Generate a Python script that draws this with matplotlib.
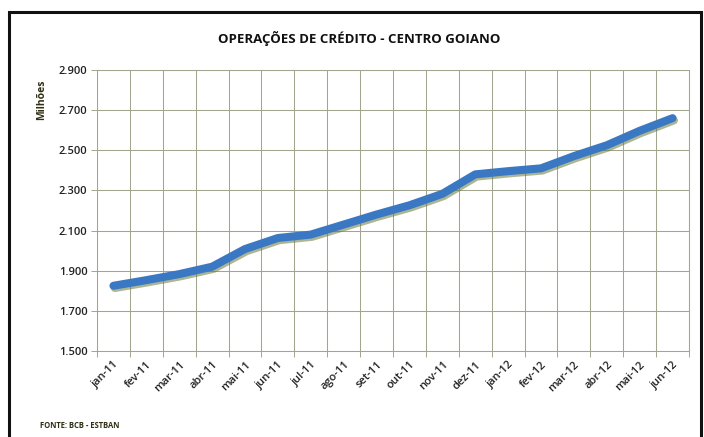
import matplotlib
matplotlib.use("Agg")
import matplotlib.pyplot as plt
import matplotlib.patheffects as pe
from matplotlib.patches import Rectangle
import numpy as np

months = ["jan-11", "fev-11", "mar-11", "abr-11", "mai-11", "jun-11", "jul-11",
          "ago-11", "set-11", "out-11", "nov-11", "dez-11", "jan-12", "fev-12",
          "mar-12", "abr-12", "mai-12", "jun-12"]
values = [1825, 1853, 1883, 1920, 2008, 2063, 2080, 2130, 2180, 2226, 2283,
          2380, 2396, 2410, 2471, 2525, 2597, 2660]
yticks = [1500, 1700, 1900, 2100, 2300, 2500, 2700, 2900]
ytick_labels = ["1.500", "1.700", "1.900", "2.100", "2.300", "2.500", "2.700", "2.900"]

plt.rcParams['font.family'] = ['Open Sans', 'DejaVu Sans']

fig = plt.figure(figsize=(7.04, 4.37), dpi=100)
fig.patch.set_facecolor("white")

# outer border
fig.add_artist(Rectangle((9/704, -0.05), (701-9)/704, 1 - 12/437 + 0.05,
                         transform=fig.transFigure, fill=False,
                         edgecolor="#111111", linewidth=2.2))

ax = fig.add_axes([97/704, 1 - 351/437, (689-97)/704, (351-70)/437])
x = np.arange(len(months))
grid_c = "#a3a68e"

ax.plot(x, values, color="#3b78c4", linewidth=5.8, solid_capstyle="round",
        solid_joinstyle="round",
        path_effects=[pe.SimpleLineShadow(offset=(1.0, -1.6), shadow_color="#6b7a3a", alpha=0.55),
                      pe.Normal()], zorder=3)

ax.set_xlim(-0.5, len(months) - 0.5)
ax.set_ylim(1500, 2900)
ax.set_yticks(yticks)
ax.set_yticklabels(ytick_labels, fontsize=8, color="#222222", fontweight="semibold")
ax.set_xticks(x)
ax.set_xticklabels(months, rotation=45, ha="right", rotation_mode="anchor",
                   fontsize=8, color="#222222", fontweight="semibold")
ax.set_xticks(np.arange(-0.5, len(months)), minor=True)
ax.tick_params(axis="x", which="major", length=0, pad=6)
ax.tick_params(axis="x", which="minor", length=4, color=grid_c, width=0.7)
ax.tick_params(axis="y", length=4, color=grid_c, width=0.7, pad=3)

ax.grid(True, axis="y", which="major", color=grid_c, linewidth=0.75)
ax.grid(True, axis="x", which="minor", color=grid_c, linewidth=0.75)
ax.grid(False, axis="x", which="major")
for s in ax.spines.values():
    s.set_color(grid_c)
    s.set_linewidth(0.75)
ax.set_axisbelow(True)

fig.text(359/704, 1 - 38/437, "OPERAÇÕES DE CRÉDITO - CENTRO GOIANO",
         ha="center", va="center", fontsize=9.5, fontweight="bold", color="#111111")
fig.text(42/704, 1 - 100/437, "Milhões", rotation=90, ha="center", va="center",
         fontsize=7.5, fontweight="bold", color="#2f2f14")
fig.text(40/704, 1 - 425/437, "FONTE: BCB - ESTBAN", ha="left", va="center",
         fontsize=5.5, fontweight="bold", color="#2f2f14")

fig.savefig("out.png", dpi=100)
